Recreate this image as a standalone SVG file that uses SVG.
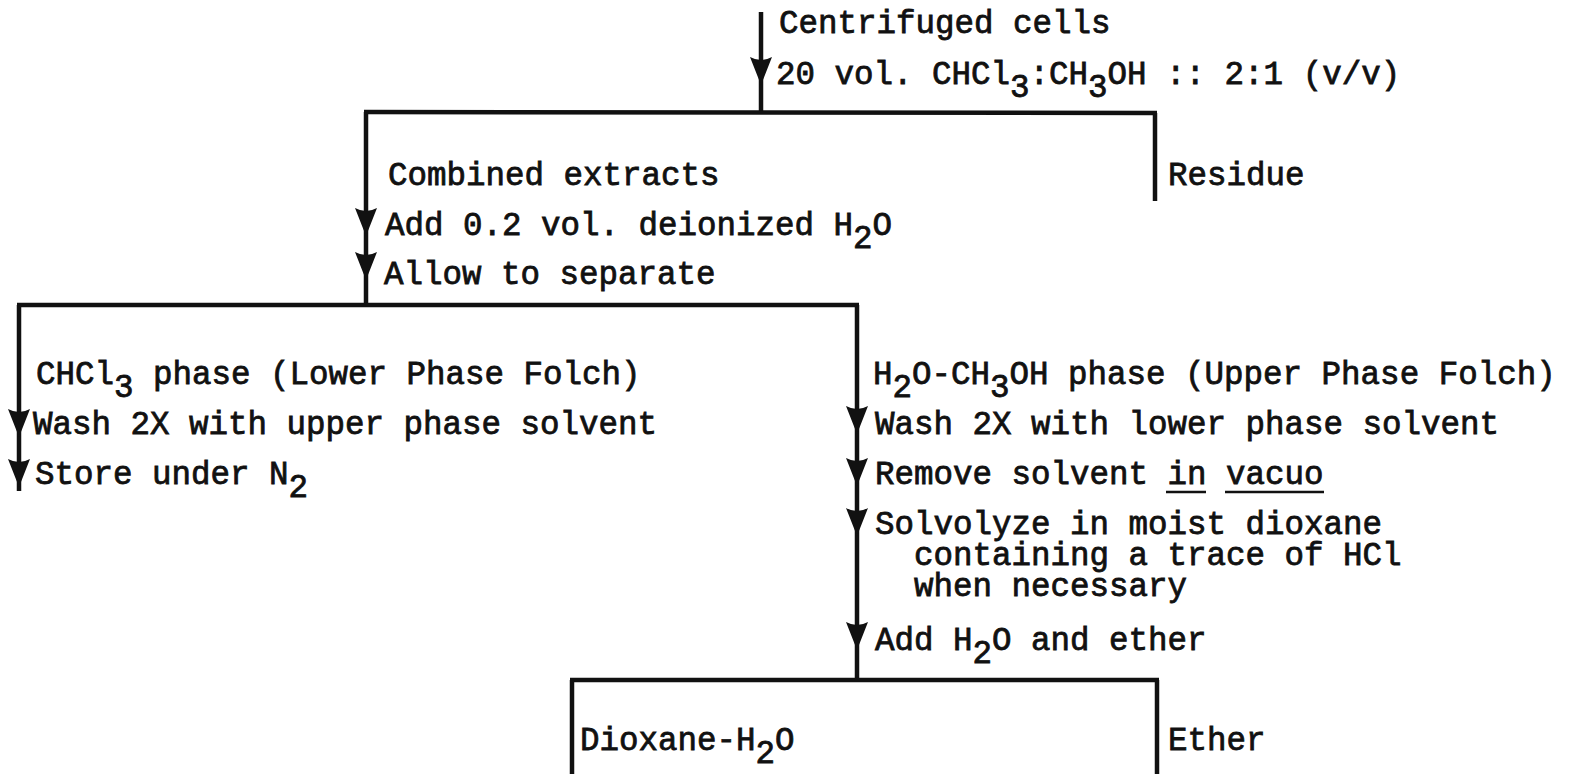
<svg xmlns="http://www.w3.org/2000/svg" xmlns:xlink="http://www.w3.org/1999/xlink" width="1570" height="774" viewBox="0 0 1570 774">
<style>
  .t { font-family: "Liberation Mono", "DejaVu Sans Mono", monospace; font-size: 32.5px; fill: #111; stroke: #111; stroke-width: 0.8; }
  .ln { stroke: #111; stroke-width: 4.5; fill: none; stroke-linecap: butt; }
  .ul { stroke: #111; stroke-width: 2.5; fill: none; }
  .ah { fill: #111; }
</style>
<defs>
  <path id="arrow" class="ah" d="M -11 -28 Q 0 -22 11 -28 L 0 0 Z"/>
</defs>
<rect width="1570" height="774" fill="#fff"/>

<g id="connectors">
  <line class="ln" x1="761" y1="12" x2="761" y2="114"/>
  <line class="ln" x1="364" y1="112" x2="1157" y2="113"/>
  <line class="ln" x1="1155" y1="113" x2="1155" y2="201"/>
  <line class="ln" x1="366" y1="112" x2="366" y2="307"/>
  <line class="ln" x1="17" y1="305" x2="859" y2="305"/>
  <line class="ln" x1="19" y1="305" x2="19" y2="491"/>
  <line class="ln" x1="857" y1="305" x2="857" y2="682"/>
  <line class="ln" x1="570" y1="680" x2="1159" y2="680"/>
  <line class="ln" x1="572" y1="680" x2="572" y2="774"/>
  <line class="ln" x1="1157" y1="680" x2="1157" y2="774"/>
  <use xlink:href="#arrow" href="#arrow" x="761" y="85"/>
  <use xlink:href="#arrow" href="#arrow" x="366" y="236"/>
  <use xlink:href="#arrow" href="#arrow" x="366" y="280"/>
  <use xlink:href="#arrow" href="#arrow" x="19" y="437"/>
  <use xlink:href="#arrow" href="#arrow" x="19" y="487"/>
  <use xlink:href="#arrow" href="#arrow" x="857" y="434"/>
  <use xlink:href="#arrow" href="#arrow" x="857" y="486"/>
  <use xlink:href="#arrow" href="#arrow" x="857" y="536"/>
  <use xlink:href="#arrow" href="#arrow" x="857" y="650"/>
</g>

<g id="start">
  <text class="t" x="779" y="33">Centrifuged cells</text>
  <text class="t" x="776" y="84">20 vol. CHCl<tspan dy="13">3</tspan><tspan dy="-13">:CH</tspan><tspan dy="13">3</tspan><tspan dy="-13">OH :: 2:1 (v/v)</tspan></text>
</g>

<g id="extracts">
  <text class="t" x="388" y="185">Combined extracts</text>
  <text class="t" x="385" y="235">Add 0.2 vol. deionized H<tspan dy="13">2</tspan><tspan dy="-13">O</tspan></text>
  <text class="t" x="384" y="284">Allow to separate</text>
</g>

<g id="residue">
  <text class="t" x="1168" y="185">Residue</text>
</g>

<g id="lower-phase">
  <text class="t" x="36" y="384">CHCl<tspan dy="13">3</tspan><tspan dy="-13"> phase (Lower Phase Folch)</tspan></text>
  <text class="t" x="33" y="434">Wash 2X with upper phase solvent</text>
  <text class="t" x="35" y="484">Store under N<tspan dy="13">2</tspan></text>
</g>

<g id="upper-phase">
  <text class="t" x="873" y="384">H<tspan dy="13">2</tspan><tspan dy="-13">O-CH</tspan><tspan dy="13">3</tspan><tspan dy="-13">OH phase (Upper Phase Folch)</tspan></text>
  <text class="t" x="875" y="434">Wash 2X with lower phase solvent</text>
  <text class="t" x="875" y="484">Remove solvent in vacuo</text>
  <line class="ul" x1="1166" y1="492" x2="1206" y2="492"/>
  <line class="ul" x1="1225" y1="492" x2="1324" y2="492"/>
  <text class="t" x="875" y="534">Solvolyze in moist dioxane<tspan x="914" dy="31">containing a trace of HCl</tspan><tspan x="914" dy="31">when necessary</tspan></text>
  <text class="t" x="875" y="650">Add H<tspan dy="13">2</tspan><tspan dy="-13">O and ether</tspan></text>
</g>

<g id="dioxane">
  <text class="t" x="580" y="750">Dioxane-H<tspan dy="13">2</tspan><tspan dy="-13">O</tspan></text>
</g>

<g id="ether">
  <text class="t" x="1168" y="750">Ether</text>
</g>
</svg>
